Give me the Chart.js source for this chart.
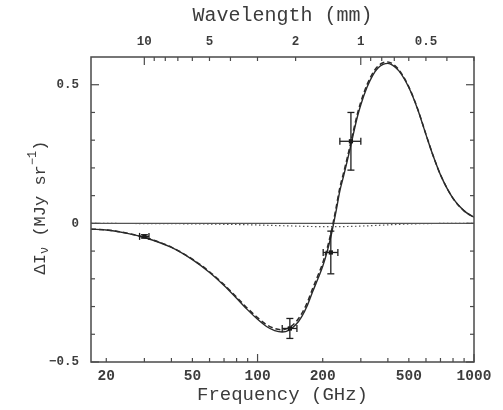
<!DOCTYPE html>
<html><head><meta charset="utf-8">
<script src="https://cdn.jsdelivr.net/npm/chart.js@4.4.0/dist/chart.umd.min.js"></script>
<style>html,body{margin:0;padding:0;background:#fff;overflow:hidden}canvas{display:block}</style>
</head><body>
<canvas id="c" width="503" height="410"></canvas>
<script>
// ---- data ----
const frequencyGHz = [17,20,25,30,40,50,60,70,80,90,100,110,120,130,140,150,160,170,180,190,200,210,220,230,240,250,260,270,280,290,300,320,340,360,380,400,420,450,500,550,600,650,700,800,900,1000];
const totalSZ = [-0.021,-0.024,-0.036,-0.051,-0.087,-0.131,-0.177,-0.224,-0.27,-0.312,-0.346,-0.372,-0.387,-0.392,-0.385,-0.366,-0.336,-0.295,-0.245,-0.2,-0.155,-0.1,-0.035,0.04,0.117,0.172,0.227,0.283,0.338,0.388,0.428,0.49,0.533,0.56,0.573,0.577,0.571,0.55,0.49,0.41,0.32,0.24,0.175,0.09,0.045,0.022];
const thermalSZ = [-0.021,-0.0237,-0.0355,-0.0503,-0.0858,-0.1292,-0.1745,-0.2207,-0.2659,-0.307,-0.3401,-0.3652,-0.3793,-0.3835,-0.3758,-0.3561,-0.3255,-0.284,-0.2336,-0.1883,-0.1431,-0.088,-0.023,0.052,0.1288,0.1836,0.2383,0.294,0.3486,0.3982,0.4378,0.499,0.5411,0.5671,0.5792,0.5823,0.5756,0.5536,0.4922,0.4114,0.3208,0.2405,0.1753,0.0901,0.045,0.022];
const kineticSZ = [-0.0002,-0.0003,-0.0005,-0.0007,-0.0012,-0.0018,-0.0025,-0.0033,-0.0041,-0.005,-0.0059,-0.0068,-0.0077,-0.0085,-0.0092,-0.0099,-0.0105,-0.011,-0.0114,-0.0117,-0.0119,-0.012,-0.012,-0.012,-0.0118,-0.0116,-0.0113,-0.011,-0.0106,-0.0102,-0.0098,-0.009,-0.0081,-0.0071,-0.0062,-0.0053,-0.0046,-0.0036,-0.0022,-0.0014,-0.0008,-0.0005,-0.0003,-0.0001,0,0];
const measFreq = [30,141,218,270];
const measValue = [-0.047,-0.379,-0.105,0.296];
const measErrY = [0.006,0.036,0.077,0.104];
const measErrX = [1.5,11,17,30];
const freqTickLabels = [20,50,100,200,500,1000];
const freqMinorTicks = [20,30,40,50,60,70,80,90,200,300,400,500,600,700,800,900];
const freqMajorTicks = [100,1000];
const wavelengthTickLabels = [10,5,2,1,0.5];
const wavelengthMinorTicks = [9,8,7,6,5,4,3,2,0.9,0.8,0.7,0.6,0.5,0.4,0.3];
const wavelengthMajorTicks = [10,1];
const yTickValues = [-0.5,0,0.5];
const yTickLabels = ['\u22120.5','0','0.5'];
const yMinorTicks = [-0.4,-0.3,-0.2,-0.1,0.1,0.2,0.3,0.4];
const freqRange = [17,1000];
const yRange = [-0.5,0.6];
const C_MM_GHZ = 299.79;

const FONT = '"Liberation Mono","DejaVu Sans Mono",monospace';
const INK = '#2a2a2a';
const TXT = '#3c3c3c';
Chart.defaults.font.family = FONT;

const pts = (xs, ys) => xs.map((x, i) => ({x, y: ys[i]}));

const framePlugin = {
  id: 'frame',
  beforeDraw(chart) {
    const c = chart.ctx;
    c.save(); c.fillStyle = '#fff'; c.fillRect(0, 0, chart.width, chart.height); c.restore();
  },
  afterDraw(chart) {
    const c = chart.ctx, a = chart.chartArea, xs = chart.scales.x, ys = chart.scales.y;
    c.save();
    c.strokeStyle = '#4a4a4a'; c.lineWidth = 1.5;
    c.strokeRect(a.left, a.top, a.right - a.left, a.bottom - a.top);
    c.lineWidth = 1.2;
    const seg = (x0, y0, x1, y1) => { c.beginPath(); c.moveTo(x0, y0); c.lineTo(x1, y1); c.stroke(); };
    // bottom frequency ticks
    freqMinorTicks.concat(freqMajorTicks).forEach(v => {
      if (v < freqRange[0] || v > freqRange[1]) return;
      const p = xs.getPixelForValue(v), L = freqMajorTicks.includes(v) ? 8 : 4;
      seg(p, a.bottom, p, a.bottom - L);
    });
    // top wavelength ticks
    wavelengthMinorTicks.concat(wavelengthMajorTicks).forEach(l => {
      const f = C_MM_GHZ / l;
      if (f < freqRange[0] || f > freqRange[1]) return;
      const p = xs.getPixelForValue(f), L = wavelengthMajorTicks.includes(l) ? 8 : 4;
      seg(p, a.top, p, a.top + L);
    });
    // left and right ticks
    yTickValues.concat(yMinorTicks).forEach(v => {
      const p = ys.getPixelForValue(v), L = yTickValues.includes(v) ? 8 : 4;
      seg(a.left, p, a.left + L, p);
      seg(a.right, p, a.right - L, p);
    });
    // y axis title with sub/superscripts
    c.fillStyle = TXT;
    c.translate(40, (a.top + a.bottom) / 2 - 2);
    c.rotate(-Math.PI / 2);
    c.textBaseline = 'middle';
    const big = '17px ' + FONT, small = '12px ' + FONT;
    const parts = [['\u0394I', big, 0], ['\u03bd', small, 5], [' (MJy sr', big, 0], ['\u22121', small, -7], [')', big, 0]];
    let total = 0;
    parts.forEach(p => { c.font = p[1]; total += c.measureText(p[0]).width; });
    let x = -total / 2;
    parts.forEach(p => { c.font = p[1]; c.fillText(p[0], x, p[2]); x += c.measureText(p[0]).width; });
    c.restore();
  }
};

const errorBarPlugin = {
  id: 'errorbars',
  afterDatasetsDraw(chart) {
    const c = chart.ctx, xs = chart.scales.x, ys = chart.scales.y;
    c.save();
    c.strokeStyle = '#1e1e1e'; c.lineWidth = 1.3;
    const seg = (x0, y0, x1, y1) => { c.beginPath(); c.moveTo(x0, y0); c.lineTo(x1, y1); c.stroke(); };
    const cap = 3.5;
    measFreq.forEach((f, i) => {
      const px = xs.getPixelForValue(f), py = ys.getPixelForValue(measValue[i]);
      const yt = ys.getPixelForValue(measValue[i] + measErrY[i]), yb = ys.getPixelForValue(measValue[i] - measErrY[i]);
      const xl = xs.getPixelForValue(f - measErrX[i]), xr = xs.getPixelForValue(f + measErrX[i]);
      seg(px, yt, px, yb); seg(px - cap, yt, px + cap, yt); seg(px - cap, yb, px + cap, yb);
      seg(xl, py, xr, py); seg(xl, py - cap, xl, py + cap); seg(xr, py - cap, xr, py + cap);
    });
    c.restore();
  }
};

new Chart(document.getElementById('c'), {
  type: 'scatter',
  data: {
    datasets: [
      {label: 'data', data: pts(measFreq, measValue), showLine: false, pointStyle: 'rect', pointRadius: 3, backgroundColor: '#111', borderColor: '#111', borderWidth: 0},
      {label: 'thermal', data: pts(frequencyGHz, thermalSZ), showLine: true, pointRadius: 0, borderColor: INK, borderWidth: 1.5, borderDash: [5, 3], cubicInterpolationMode: 'monotone'},
      {label: 'total', data: pts(frequencyGHz, totalSZ), showLine: true, pointRadius: 0, borderColor: INK, borderWidth: 1.4, cubicInterpolationMode: 'monotone'},
      {label: 'kinetic', data: pts(frequencyGHz, kineticSZ), showLine: true, pointRadius: 0, borderColor: '#555', borderWidth: 1.2, borderDash: [1.5, 2.5], cubicInterpolationMode: 'monotone'},
      {label: 'zero', data: pts(freqRange, [0, 0]), showLine: true, pointRadius: 0, borderColor: '#555', borderWidth: 1.2}
    ]
  },
  options: {
    responsive: false, animation: false, devicePixelRatio: 1,
    layout: {padding: {left: 0, right: 29, top: 0, bottom: 0}},
    plugins: {legend: {display: false}, tooltip: {enabled: false}},
    scales: {
      x: {
        type: 'logarithmic', position: 'bottom', min: freqRange[0], max: freqRange[1],
        afterBuildTicks: s => { s.ticks = freqTickLabels.map(v => ({value: v})); },
        afterFit: s => { s.height = 48; },
        ticks: {autoSkip: false, maxRotation: 0, minRotation: 0, padding: 6, color: TXT, font: {size: 14.5, weight: 'bold'}, callback: (v, i) => String(freqTickLabels[i])},
        grid: {display: false, drawTicks: false}, border: {display: false},
        title: {display: true, text: 'Frequency (GHz)', color: TXT, font: {size: 19}, padding: {top: 0, bottom: 4}}
      },
      x2: {
        type: 'logarithmic', position: 'top', min: freqRange[0], max: freqRange[1],
        afterBuildTicks: s => { s.ticks = wavelengthTickLabels.map(l => ({value: C_MM_GHZ / l})); },
        afterFit: s => { s.height = 57; },
        ticks: {autoSkip: false, maxRotation: 0, minRotation: 0, padding: 7.5, color: TXT, font: {size: 12.5, weight: 'bold'}, callback: (v, i) => String(wavelengthTickLabels[i])},
        grid: {display: false, drawTicks: false}, border: {display: false},
        title: {display: true, text: 'Wavelength (mm)', color: TXT, font: {size: 20}, padding: {top: 4, bottom: 0}}
      },
      y: {
        type: 'linear', position: 'left', min: yRange[0], max: yRange[1],
        afterBuildTicks: s => { s.ticks = yTickValues.map(v => ({value: v})); },
        afterFit: s => { s.width = 91; },
        ticks: {padding: 12, color: TXT, font: {size: 12.5, weight: 'bold'}, callback: (v, i) => yTickLabels[i]},
        grid: {display: false, drawTicks: false}, border: {display: false}
      }
    }
  },
  plugins: [framePlugin, errorBarPlugin]
});
</script>
</body></html>
